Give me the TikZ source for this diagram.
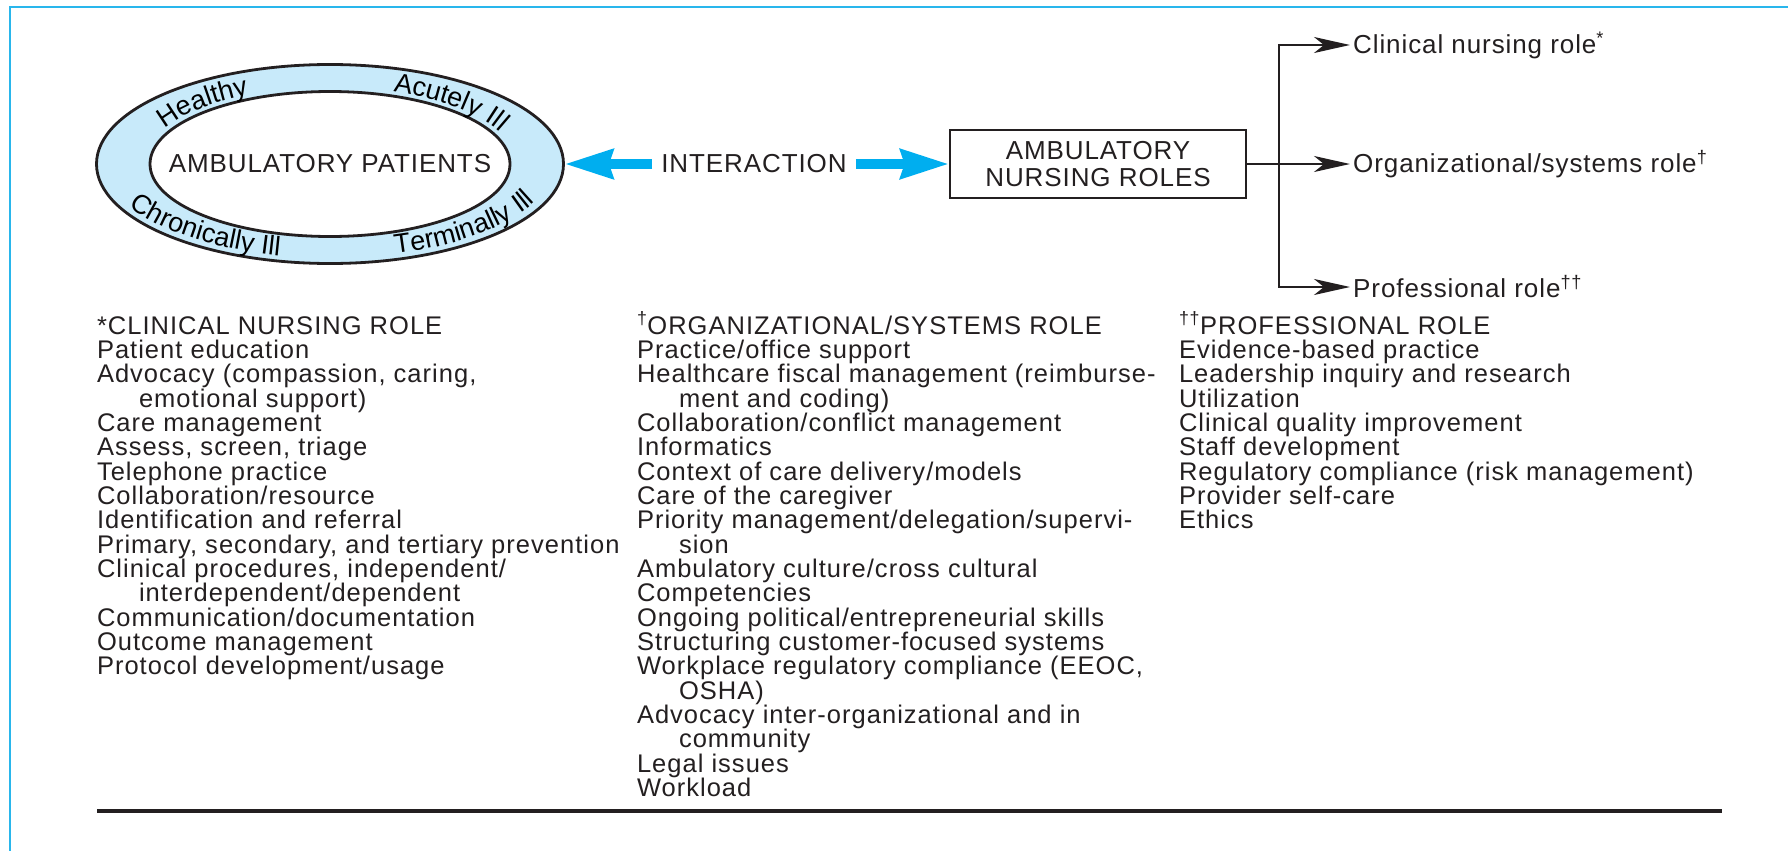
\documentclass[tikz,border=0pt]{standalone}
\usepackage{fontspec}
\setmainfont{Liberation Sans}
\newfontfamily\listsans{Liberation Sans}[LetterSpace=4]
\newfontfamily\tagsans{Liberation Sans}[LetterSpace=3.5]
\newcommand\listfont{\listsans\fontsize{25.5}{24.35}\selectfont}
\newcommand\tagfont{\tagsans\fontsize{26}{26.5}\selectfont}
\newcommand\ringfont{\fontsize{27}{27}\selectfont}
\usetikzlibrary{positioning,calc,shapes.geometric,arrows.meta,decorations.text}
\definecolor{ink}{RGB}{35,31,32}
\definecolor{ringblue}{RGB}{200,234,250}
\definecolor{arrowblue}{RGB}{0,174,239}
\definecolor{framecyan}{RGB}{41,182,236}

\begin{document}
\begin{tikzpicture}[x=1pt,y=1pt,every node/.style={text=ink},
				item/.style={anchor=north west,inner sep=0pt,outer sep=0pt,text height=17pt,text depth=7.35pt,font=\listfont},
				tag/.style={font=\tagfont,inner sep=0pt},
				oval/.style={ellipse,draw=ink,line width=2.8pt,inner sep=0pt},
				rolebox/.style={draw=ink,line width=2.6pt,minimum width=296pt,minimum height=68pt,align=center,font=\tagfont},
				branch/.style={draw=ink,line width=2.4pt,-{Stealth[length=36pt,width=16pt,inset=10pt]}},
				bigarrow/.style={draw=arrowblue,line width=9.5pt,-{Stealth[length=48pt,width=29pt,inset=4pt]}},
				ringtext/.style={decorate,decoration={text along path,text align=center,text={|\ringfont|#1}}}]
				\useasboundingbox (0,0) rectangle (1788,-851);
				\draw[framecyan,line width=2.7pt] (10,-900) |- (1900,-7);

				\node[oval,fill=ringblue,minimum width=467pt,minimum height=199pt] (ring) at (330,-164) {};
				\node[oval,fill=white,minimum width=360pt,minimum height=145pt]    (core) at (330,-164) {};
				\node[tag] (patients) at (core.center) {AMBULATORY PATIENTS};
				\path[ringtext=Healthy]         (ring.center) ++(176:186 and 77) arc[start angle=176,end angle=104,x radius=186,y radius=77];
				\path[ringtext=Acutely Ill]     (ring.center) ++(80:186 and 77)  arc[start angle=80,end angle=4,x radius=186,y radius=77];
				\path[ringtext=Chronically Ill] (ring.center) ++(184:224 and 94) arc[start angle=184,end angle=268,x radius=224,y radius=94];
				\path[ringtext=Terminally Ill]  (ring.center) ++(277:224 and 94) arc[start angle=277,end angle=357,x radius=224,y radius=94];

				\node[tag,inner xsep=9pt] (interaction) at (754,-164) {INTERACTION};
				\node[rolebox]            (roles)       at (1098,-164) {AMBULATORY\\NURSING ROLES};
				\draw[bigarrow] (interaction.west) -- (interaction.west -| ring.east);
				\draw[bigarrow] (interaction.east) -- (interaction.east -| roles.west);

				\coordinate (fork) at (1279,-164);
				\node[tag,anchor=west,inner xsep=3pt] (clinrole) at (1350,-45)  {Clinical nursing role\textsuperscript{*}};
				\node[tag,anchor=west,inner xsep=3pt] (orgrole)  at (1350,-164) {Organizational/systems role\textsuperscript{†}};
				\node[tag,anchor=west,inner xsep=3pt] (profrole) at (1350,-287) {Professional role\textsuperscript{††}};
				\draw[branch] (roles.east) -- (orgrole.west);
				\draw[branch] (fork) |- (clinrole.west);
				\draw[branch] (fork) |- (profrole.west);

				\node[item] (clin0)  at (97,-317)          {*CLINICAL NURSING ROLE};
				\node[item] (clin1)  at (clin0.south west)  {Patient education};
				\node[item] (clin2)  at (clin1.south west)  {Advocacy (compassion, caring,};
				\node[item] (clin3)  at (clin2.south west)  {\hspace*{42pt}emotional support)};
				\node[item] (clin4)  at (clin3.south west)  {Care management};
				\node[item] (clin5)  at (clin4.south west)  {Assess, screen, triage};
				\node[item] (clin6)  at (clin5.south west)  {Telephone practice};
				\node[item] (clin7)  at (clin6.south west)  {Collaboration/resource};
				\node[item] (clin8)  at (clin7.south west)  {Identification and referral};
				\node[item] (clin9)  at (clin8.south west)  {Primary, secondary, and tertiary prevention};
				\node[item] (clin10) at (clin9.south west)  {Clinical procedures, independent/};
				\node[item] (clin11) at (clin10.south west) {\hspace*{42pt}interdependent/dependent};
				\node[item] (clin12) at (clin11.south west) {Communication/documentation};
				\node[item] (clin13) at (clin12.south west) {Outcome management};
				\node[item] (clin14) at (clin13.south west) {Protocol development/usage};

				\node[item] (org0)  at (637,-317)         {\textsuperscript{†}ORGANIZATIONAL/SYSTEMS ROLE};
				\node[item] (org1)  at (org0.south west)  {Practice/office support};
				\node[item] (org2)  at (org1.south west)  {Healthcare fiscal management (reimburse-};
				\node[item] (org3)  at (org2.south west)  {\hspace*{42pt}ment and coding)};
				\node[item] (org4)  at (org3.south west)  {Collaboration/conflict management};
				\node[item] (org5)  at (org4.south west)  {Informatics};
				\node[item] (org6)  at (org5.south west)  {Context of care delivery/models};
				\node[item] (org7)  at (org6.south west)  {Care of the caregiver};
				\node[item] (org8)  at (org7.south west)  {Priority management/delegation/supervi-};
				\node[item] (org9)  at (org8.south west)  {\hspace*{42pt}sion};
				\node[item] (org10) at (org9.south west)  {Ambulatory culture/cross cultural};
				\node[item] (org11) at (org10.south west) {Competencies};
				\node[item] (org12) at (org11.south west) {Ongoing political/entrepreneurial skills};
				\node[item] (org13) at (org12.south west) {Structuring customer-focused systems};
				\node[item] (org14) at (org13.south west) {Workplace regulatory compliance (EEOC,};
				\node[item] (org15) at (org14.south west) {\hspace*{42pt}OSHA)};
				\node[item] (org16) at (org15.south west) {Advocacy inter-organizational and in};
				\node[item] (org17) at (org16.south west) {\hspace*{42pt}community};
				\node[item] (org18) at (org17.south west) {Legal issues};
				\node[item] (org19) at (org18.south west) {Workload};

				\node[item] (prof0) at (1179,-317)         {\textsuperscript{††}PROFESSIONAL ROLE};
				\node[item] (prof1) at (prof0.south west)  {Evidence-based practice};
				\node[item] (prof2) at (prof1.south west)  {Leadership inquiry and research};
				\node[item] (prof3) at (prof2.south west)  {Utilization};
				\node[item] (prof4) at (prof3.south west)  {Clinical quality improvement};
				\node[item] (prof5) at (prof4.south west)  {Staff development};
				\node[item] (prof6) at (prof5.south west)  {Regulatory compliance (risk management)};
				\node[item] (prof7) at (prof6.south west)  {Provider self-care};
				\node[item] (prof8) at (prof7.south west)  {Ethics};

				\draw[ink,line width=3.3pt] (97,-811) -- (1722,-811);
			\end{tikzpicture}
\end{document}
